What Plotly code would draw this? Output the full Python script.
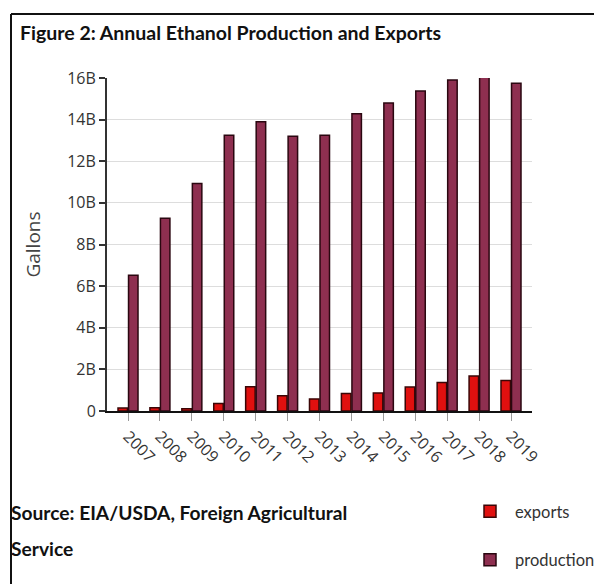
import plotly.graph_objects as go

# Annual U.S. fuel ethanol figures, billions of gallons
years = ["2007", "2008", "2009", "2010", "2011", "2012", "2013",
         "2014", "2015", "2016", "2017", "2018", "2019"]
exports_bgal = [0.14, 0.16, 0.11, 0.36, 1.16, 0.73, 0.58,
                0.84, 0.87, 1.15, 1.37, 1.68, 1.46]
production_bgal = [6.52, 9.26, 10.93, 13.25, 13.90, 13.20, 13.25,
                   14.28, 14.80, 15.38, 15.90, 16.07, 15.75]

y_tick_vals_bgal = [0, 2, 4, 6, 8, 10, 12, 14, 16]
y_tick_text = ["0", "2B", "4B", "6B", "8B", "10B", "12B", "14B", "16B"]

BILLION = 1e9
exports = [v * BILLION for v in exports_bgal]
production = [v * BILLION for v in production_bgal]
y_tick_vals = [v * BILLION for v in y_tick_vals_bgal]

W, H = 594, 584
L, R, T, B = 107, 532, 78, 411  # plot area edges in pixels


def px_x(x):
    return (x - L) / (R - L)


def px_y(y):
    return (B - y) / (B - T)


fig = go.Figure()
fig.add_trace(go.Bar(
    x=years, y=exports, name="exports", legendgroup="exp",
    marker=dict(color="#e0100f", line=dict(color="#3a0606", width=1.5)),
    cliponaxis=False,
))
fig.add_trace(go.Bar(
    x=years, y=production, name="production", legendgroup="prod",
    marker=dict(color="#8e2f50", line=dict(color="#2a0710", width=1.5)),
    cliponaxis=False,
))

tick_font = dict(family="Open Sans, sans-serif", size=16, color="#333333")

fig.update_layout(
    width=W, height=H,
    margin=dict(l=L, r=W - R, t=T, b=H - B, autoexpand=False),
    paper_bgcolor="white", plot_bgcolor="white",
    barmode="group", bargap=0.34, bargroupgap=0.1,
    title=dict(
        text="<b>Figure 2: Annual Ethanol Production and Exports</b>",
        font=dict(family="Lato, sans-serif", size=19.5, color="#111111"),
        xref="container", yref="container",
        x=20 / W, xanchor="left", y=1 - 33 / H, yanchor="middle",
    ),
    xaxis=dict(
        type="category", range=[-0.658, 12.658], automargin=False,
        tickangle=45, tickfont=tick_font,
        ticks="outside", ticklen=8, tickcolor="#9a9a9a", tickwidth=1,
        showline=True, linecolor="#111111", linewidth=2,
        showgrid=False,
    ),
    yaxis=dict(
        range=[0, 16 * BILLION], automargin=False,
        tickvals=y_tick_vals, ticktext=y_tick_text, tickfont=tick_font,
        ticks="outside", ticklen=6, tickcolor="#333333", tickwidth=2,
        showline=True, linecolor="#333333", linewidth=2,
        showgrid=True, gridcolor="#dddddd", gridwidth=1,
        zeroline=False,
        title=dict(text="Gallons", standoff=22,
                   font=dict(family="Open Sans, sans-serif", size=19, color="#444444")),
    ),
    legend=dict(
        x=px_x(465), xanchor="left", y=px_y(494), yanchor="top",
        font=dict(family="Lato, sans-serif", size=16.5, color="#333333"),
        tracegroupgap=24, traceorder="grouped", itemwidth=40,
        bgcolor="rgba(0,0,0,0)",
    ),
    showlegend=True,
)

# Source note below the chart
src_font = dict(family="Lato, sans-serif", size=19.2, color="#111111")
fig.add_annotation(text="<b>Source: EIA/USDA, Foreign Agricultural</b>",
                   xref="paper", yref="paper", x=px_x(9), y=px_y(512),
                   xanchor="left", yanchor="middle", showarrow=False, font=src_font)
fig.add_annotation(text="<b>Service</b>",
                   xref="paper", yref="paper", x=px_x(9), y=px_y(548),
                   xanchor="left", yanchor="middle", showarrow=False, font=src_font)

# Frame lines along the top and left of the figure
frame = dict(color="#111111", width=2)
fig.add_shape(type="line", xref="paper", yref="paper",
              x0=px_x(11), x1=px_x(W), y0=px_y(14), y1=px_y(14), line=frame)
fig.add_shape(type="line", xref="paper", yref="paper",
              x0=px_x(11), x1=px_x(11), y0=px_y(14), y1=px_y(H), line=frame)

fig.write_html("out.html")
